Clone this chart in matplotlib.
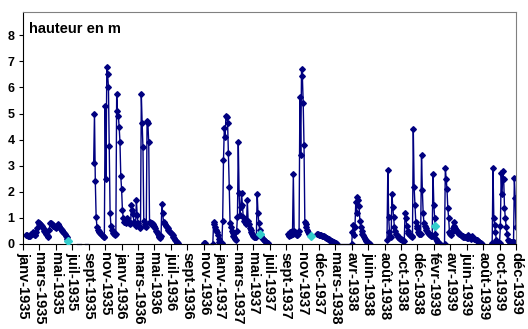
import numpy as np
import matplotlib
matplotlib.use("Agg")
import matplotlib.pyplot as plt

nan = np.nan

# une étiquette tous les 20 relevés
labels = ["janv-1935", "mars-1935", "mai-1935", "juil-1935", "sept-1935", "nov-1935",
          "janv-1936", "mars-1936", "mai-1936", "juil-1936", "sept-1936", "nov-1936",
          "janv-1937", "mars-1937", "mai-1937", "juil-1937", "sept-1937", "nov-1937",
          "déc-1937", "mars-1938", "avr-1938", "juin-1938", "août-1938", "oct-1938",
          "déc-1938", "févr-1939", "avr-1939", "juin-1939", "août-1939", "oct-1939",
          "déc-1939"]

# hauteur en m, relevés successifs (20 par étiquette)
hauteur = [
    # janv-1935
    nan, nan, nan, nan, 0.35, 0.33, 0.30, 0.30, 0.32, 0.35,
    0.38, 0.40, 0.45, 0.40, 0.35, 0.33, 0.45, 0.60, 0.85, 0.82,
    # mars-1935
    0.80, 0.76, 0.72, 0.68, 0.62, 0.56, 0.50, 0.45, 0.40, 0.35,
    0.30, 0.27, 0.55, 0.82, 0.80, 0.76, 0.72, 0.70, 0.68, 0.65,
    # mai-1935
    0.62, 0.65, 0.72, 0.75, 0.68, 0.60, 0.58, 0.55, 0.50, 0.45,
    0.42, 0.38, 0.32, 0.27, 0.20, nan, nan, nan, nan, nan,
    # juil-1935
    nan, nan, nan, nan, nan, nan, nan, nan, nan, nan,
    nan, nan, nan, nan, nan, nan, nan, nan, nan, nan,
    # sept-1935
    nan, nan, nan, nan, nan, nan, 3.10, 5.00, 2.40, 1.05,
    0.65, 0.55, 0.50, 0.45, 0.42, 0.38, 0.35, 0.30, 0.27, 0.25,
    # nov-1935
    5.30, 2.50, 6.77, 6.50, 6.00, 3.75, 1.20, 0.70, 0.55, 0.48,
    0.42, 0.38, 0.35, 0.40, 5.73, 5.10, 4.92, 4.50, 3.92, 2.60,
    # janv-1936
    2.10, 1.30, 1.00, 0.85, 0.85, 0.80, 1.00, 0.90, 0.85, 0.80,
    0.75, 0.80, 1.50, 1.30, 1.15, 0.85, 0.75, 0.70, 1.70, 1.10,
    # mars-1936
    0.80, 0.70, 0.65, 0.60, 5.73, 4.62, 3.70, 0.90, 0.75, 0.70,
    0.65, 4.73, 4.62, 3.90, 0.85, 0.80, 0.78, 0.80, 0.75, 0.70,
    # mai-1936
    0.65, 0.60, 0.50, 0.45, 0.40, 0.32, 0.25, 0.22, 0.30, 1.55,
    1.20, 0.85, 0.80, 0.75, 0.70, 0.65, 0.60, 0.55, 0.50, 0.45,
    # juil-1936
    0.42, 0.38, 0.33, 0.28, 0.22, 0.17, 0.12, 0.08, 0.04, 0.02,
    nan, nan, nan, nan, nan, nan, nan, nan, nan, nan,
    # sept-1936
    nan, nan, nan, nan, nan, nan, nan, nan, nan, nan,
    nan, nan, nan, nan, nan, nan, nan, nan, nan, nan,
    # nov-1936
    0.04, 0.02, nan, nan, nan, nan, nan, nan, nan, nan,
    nan, 0.00, 0.85, 0.75, 0.65, 0.55, 0.45, 0.35, 0.20, 0.08,
    # janv-1937
    0.03, 0.02, 0.02, 0.90, 3.20, 4.45, 4.10, 4.92, 4.85, 4.65,
    3.50, 2.20, 0.80, 0.65, 0.50, 0.42, 0.30, 0.27, 0.20, 0.15,
    # mars-1937
    0.50, 1.05, 3.90, 1.95, 1.10, 1.40, 1.95, 1.50, 1.05, 0.90,
    0.85, 0.80, 0.75, 1.70, 0.90, 0.75, 0.62, 0.55, 0.45, 0.38,
    # mai-1937
    0.30, 0.28, 0.25, 0.25, 0.30, 1.93, 1.20, 0.80, 0.55, 0.40,
    0.30, 0.22, 0.18, 0.15, 0.12, 0.10, 0.07, 0.04, 0.02, nan,
    # juil-1937
    nan, nan, nan, nan, nan, nan, nan, nan, nan, nan,
    nan, nan, nan, nan, nan, nan, nan, nan, nan, nan,
    # sept-1937
    nan, nan, nan, 0.40, 0.30, 0.45, 0.35, 0.50, 0.40, 2.70,
    0.50, 0.45, 0.40, 0.35, 0.35, 0.40, 0.50, 5.65, 3.40, 6.72,
    # nov-1937
    6.42, 5.42, 3.80, 0.85, 0.75, 0.65, 0.55, 0.45, 0.40, 0.35,
    nan, nan, nan, nan, nan, nan, nan, nan, 0.38, 0.37,
    # déc-1937
    0.36, 0.35, 0.34, 0.33, 0.32, 0.31, 0.30, 0.28, 0.26, 0.24,
    0.22, 0.20, 0.18, 0.16, 0.14, 0.12, 0.10, 0.08, 0.06, 0.05,
    # mars-1938
    0.03, 0.02, 0.00, nan, nan, nan, nan, nan, nan, nan,
    nan, nan, nan, nan, nan, nan, nan, nan, nan, nan,
    # avr-1938
    0.00, 0.45, 0.73, 0.35, 0.65, 1.60, 1.20, 1.80, 1.70, 1.45,
    0.90, 0.65, 0.50, 0.40, 0.35, 0.28, 0.20, 0.15, 0.10, 0.07,
    # juin-1938
    0.04, 0.02, 0.01, nan, nan, nan, nan, nan, nan, nan,
    nan, nan, nan, nan, nan, nan, nan, nan, nan, nan,
    # août-1938
    nan, nan, nan, 0.15, 2.85, 1.05, 0.45, 0.30, 0.25, 1.92,
    1.43, 1.05, 0.65, 0.50, 0.40, 0.35, 0.27, 0.25, 0.22, 0.20,
    # oct-1938
    0.18, 0.16, 0.15, 0.13, 0.12, 1.20, 1.00, 0.70, 0.50, 0.42,
    0.38, 0.35, 0.32, 0.30, 0.27, 4.42, 2.20, 1.50, 0.85, 0.70,
    # déc-1938
    0.60, 0.45, 0.40, 0.38, 0.40, 3.42, 2.08, 1.20, 0.80, 0.70,
    0.62, 0.55, 0.48, 0.42, 0.40, 0.36, 0.33, 0.30, 0.30, 2.70,
    # févr-1939
    1.50, 1.00, 0.40, 0.20, 0.10, 0.05, 0.02, 0.00, nan, nan,
    nan, nan, nan, 0.00, 2.92, 2.50, 2.10, 1.38, 1.00, 0.47,
    # avr-1939
    0.40, 0.35, 0.45, 0.60, 0.85, 0.70, 0.60, 0.55, 0.50, 0.45,
    0.42, 0.40, 0.38, 0.35, 0.32, 0.30, 0.28, 0.27, 0.26, 0.25,
    # juin-1939
    0.24, 0.22, 0.35, 0.25, 0.22, 0.20, 0.22, 0.30, 0.22, 0.20,
    0.18, 0.17, 0.16, 0.15, 0.12, 0.08, 0.05, 0.03, 0.01, 0.00,
    # août-1939
    nan, nan, nan, nan, nan, nan, nan, nan, nan, nan,
    nan, 0.02, 2.92, 1.00, 0.73, 0.45, 0.15, 0.08, 0.05, 0.05,
    # oct-1939
    0.05, 0.70, 2.73, 1.90, 2.80, 2.50, 1.38, 1.00, 0.65, 0.40,
    0.15, 0.12, 0.10, 0.09, 0.08, 0.08, 0.07, 0.06, 2.54, 1.77,
    # déc-1939
    0.65,
]

# points isolés (2e série)
mesures_idx = [55, 289, 350, 501]
mesures_val = [0.12, 0.38, 0.30, 0.68]

# tronçons à niveau nul, tracés sans marqueurs
plats = [(66, 70), (75, 79), (221, 231), (382, 400), (507, 513)]

plt.rcParams['font.family'] = ['Liberation Sans', 'DejaVu Sans']

fig = plt.figure(figsize=(5.28, 3.29), dpi=100)
ax = fig.add_axes([23 / 528, 85 / 329, 493 / 528, 232 / 329])

x = np.arange(len(hauteur))
y = np.array(hauteur, dtype=float)
ax.plot(x, y, color='#000080', lw=1.0, marker='D', ms=2.9,
        mec='#000080', mfc='#000080')
for a, b in plats:
    ax.plot([a, b], [0, 0], color='#000080', lw=0.9, clip_on=False)
ax.plot(mesures_idx, mesures_val, ls='none', marker='D', ms=4.5,
        color='#33CCCC', zorder=3)

ax.set_xlim(0, len(hauteur) - 1)
ax.set_ylim(0, 8.89)
ax.set_yticks(range(9))
ax.set_xticks(range(0, len(hauteur), 20))
ax.set_xticklabels(labels, rotation=270, fontweight='bold', fontsize=10.5,
                   ha='center', va='top')
for t in ax.get_yticklabels():
    t.set_fontweight('bold')
    t.set_fontsize(9)
ax.tick_params(axis='x', direction='out', length=4, width=0.8, pad=2)
ax.tick_params(axis='y', direction='out', length=3, width=0.8, pad=3)

for s in ['top', 'right']:
    ax.spines[s].set_color('#808080')
for s in ['left', 'bottom']:
    ax.spines[s].set_color('black')

ax.text(0.012, 0.955, 'hauteur en m', transform=ax.transAxes, va='top',
        ha='left', fontsize=10.5, fontweight='bold')

fig.savefig('out.png', dpi=100)
